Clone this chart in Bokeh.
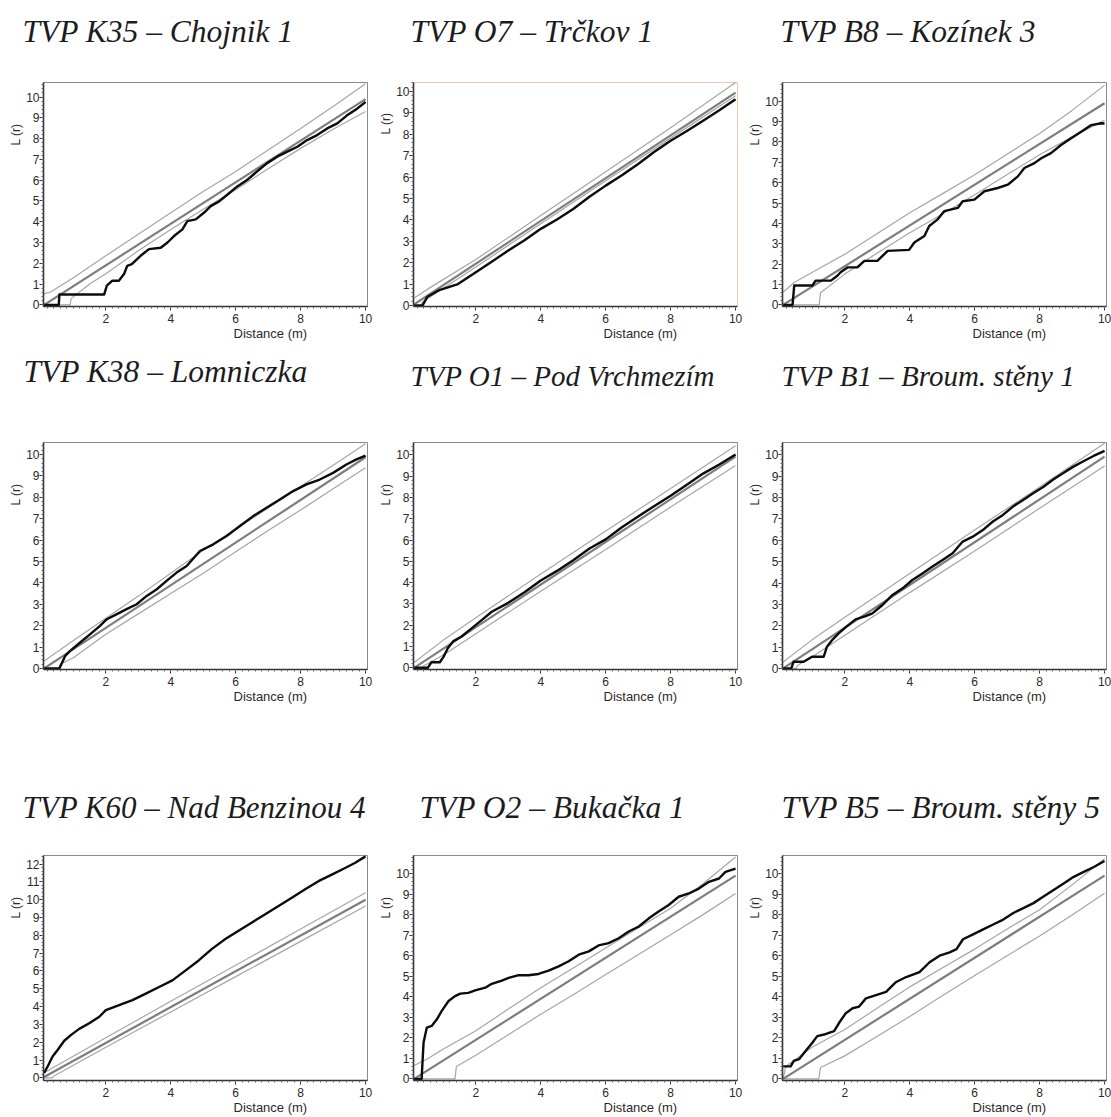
import math
from bokeh.plotting import figure
from bokeh.models import Range1d, FixedTicker, Title
from bokeh.layouts import column, row
from bokeh.embed import file_html
from bokeh.resources import INLINE

# ---------------- data ----------------
TITLES = ["TVP K35 \u2013 Chojnik 1", "TVP O7 \u2013 Tr\u010dkov 1", "TVP B8 \u2013 Koz\u00ednek 3",
          "TVP K38 \u2013 Lomniczka", "TVP O1 \u2013 Pod Vrchmez\u00edm", "TVP B1 \u2013 Broum. st\u011bny 1",
          "TVP K60 \u2013  Nad Benzinou 4", "TVP O2 \u2013 Buka\u010dka 1", "TVP B5 \u2013 Broum. st\u011bny 5"]
X_LABEL = "Distance (m)"
Y_LABEL = "L (r)"
X_TICKS = [2, 4, 6, 8, 10]
EXP_X = [0.1, 10.0]

# K35 - Chojnik 1
k35_obs_x = [0.1, 0.55, 0.57, 1.95, 2.03, 2.2, 2.4, 2.56, 2.66, 2.8, 3.07, 3.33, 3.69, 3.9, 4.1, 4.36, 4.51, 4.77, 5.02, 5.23, 5.49, 5.74, 6.05, 6.36, 6.66, 6.97, 7.28, 7.59, 7.9, 8.2, 8.51, 8.82, 9.13, 9.43, 9.74, 10.0]
k35_obs_y = [0.0, 0.0, 0.5, 0.5, 0.92, 1.16, 1.16, 1.48, 1.88, 1.96, 2.36, 2.68, 2.75, 3.0, 3.31, 3.63, 4.03, 4.11, 4.43, 4.75, 4.98, 5.3, 5.7, 6.02, 6.42, 6.82, 7.13, 7.37, 7.61, 7.93, 8.17, 8.49, 8.73, 9.12, 9.44, 9.76]
k35_up_x = [0.1, 0.3, 1.0, 2.0, 3.0, 4.0, 5.0, 6.0, 7.0, 8.0, 9.0, 10.0]
k35_up_y = [0.53, 0.62, 1.3, 2.36, 3.4, 4.43, 5.45, 6.42, 7.45, 8.49, 9.55, 10.64]
k35_lo_x = [0.1, 0.9, 0.93, 1.5, 2.0, 3.0, 4.0, 5.0, 6.0, 7.0, 8.0, 9.0, 10.0]
k35_lo_y = [0.0, 0.0, 0.3, 1.0, 1.5, 2.6, 3.63, 4.6, 5.54, 6.55, 7.53, 8.45, 9.3]
k35_exp_y = [0.0, 9.9]

# O7 - Trckov 1
o7_obs_x = [0.1, 0.36, 0.5, 0.85, 1.45, 2.0, 2.5, 3.0, 3.5, 4.0, 4.5, 5.0, 5.5, 6.0, 6.5, 7.0, 7.5, 8.0, 8.5, 9.0, 9.5, 10.0]
o7_obs_y = [0.0, 0.0, 0.39, 0.7, 1.0, 1.55, 2.05, 2.57, 3.05, 3.58, 4.02, 4.51, 5.08, 5.6, 6.08, 6.61, 7.18, 7.7, 8.15, 8.63, 9.12, 9.64]
o7_up_x = [0.1, 0.5, 2.0, 4.0, 6.0, 8.0, 10.0]
o7_up_y = [0.35, 0.75, 2.15, 4.2, 6.25, 8.3, 10.42]
o7_lo_x = [0.1, 0.3, 0.35, 1.0, 2.0, 4.0, 6.0, 8.0, 10.0]
o7_lo_y = [0.0, 0.0, 0.15, 0.8, 1.8, 3.82, 5.83, 7.82, 9.8]
o7_exp_y = [0.05, 9.95]

# B8 - Kozinek 3
b8_obs_x = [0.1, 0.39, 0.44, 1.0, 1.1, 1.57, 1.77, 1.87, 2.08, 2.39, 2.6, 3.0, 3.32, 3.98, 4.14, 4.45, 4.6, 4.86, 5.06, 5.48, 5.63, 5.99, 6.3, 6.71, 7.02, 7.33, 7.53, 7.84, 8.05, 8.35, 8.66, 8.97, 9.28, 9.59, 9.9, 10.0]
b8_obs_y = [0.0, 0.0, 0.95, 0.95, 1.19, 1.19, 1.43, 1.6, 1.84, 1.84, 2.16, 2.16, 2.65, 2.7, 3.06, 3.38, 3.87, 4.2, 4.6, 4.76, 5.09, 5.17, 5.58, 5.74, 5.9, 6.31, 6.72, 6.96, 7.2, 7.45, 7.85, 8.18, 8.5, 8.83, 8.92, 8.91]
b8_up_x = [0.1, 0.44, 1.0, 2.0, 3.0, 4.0, 5.0, 6.0, 7.0, 8.0, 9.0, 10.0]
b8_up_y = [0.62, 1.1, 1.6, 2.49, 3.5, 4.52, 5.45, 6.39, 7.4, 8.42, 9.55, 10.78]
b8_lo_x = [0.1, 1.21, 1.25, 2.0, 3.0, 4.0, 5.0, 6.0, 7.0, 8.0, 9.0, 10.0]
b8_lo_y = [0.0, 0.0, 0.6, 1.51, 2.55, 3.54, 4.45, 5.41, 6.4, 7.37, 8.25, 9.07]
b8_exp_y = [0.0, 9.9]

# K38 - Lomniczka
k38_obs_x = [0.1, 0.57, 0.75, 0.9, 1.21, 1.52, 1.82, 2.03, 2.34, 2.64, 2.95, 3.26, 3.57, 3.87, 4.18, 4.49, 4.9, 5.31, 5.72, 6.13, 6.54, 6.95, 7.36, 7.77, 8.18, 8.59, 9.0, 9.41, 9.72, 10.0]
k38_obs_y = [0.0, 0.0, 0.59, 0.82, 1.21, 1.6, 1.99, 2.3, 2.54, 2.77, 3.0, 3.39, 3.7, 4.09, 4.48, 4.79, 5.49, 5.8, 6.19, 6.66, 7.12, 7.51, 7.9, 8.29, 8.6, 8.83, 9.14, 9.53, 9.77, 9.95]
k38_up_x = [0.1, 1.0, 2.0, 3.0, 4.0, 5.0, 6.0, 7.0, 8.0, 9.0, 10.0]
k38_up_y = [0.35, 1.3, 2.35, 3.38, 4.45, 5.52, 6.5, 7.5, 8.5, 9.5, 10.5]
k38_lo_x = [0.1, 0.55, 0.6, 1.0, 2.0, 3.0, 4.0, 5.0, 6.0, 7.0, 8.0, 9.0, 10.0]
k38_lo_y = [0.0, 0.0, 0.2, 0.5, 1.6, 2.55, 3.5, 4.45, 5.45, 6.45, 7.4, 8.4, 9.38]
k38_exp_y = [0.0, 9.87]

# O1 - Pod Vrchmezim
o1_obs_x = [0.1, 0.52, 0.63, 0.89, 1.0, 1.14, 1.3, 1.56, 1.87, 2.18, 2.49, 3.0, 3.5, 4.0, 4.5, 5.0, 5.5, 6.0, 6.5, 7.0, 7.5, 8.0, 8.5, 9.0, 9.5, 10.0]
o1_obs_y = [0.0, 0.0, 0.26, 0.26, 0.5, 0.93, 1.24, 1.47, 1.85, 2.24, 2.63, 3.05, 3.55, 4.1, 4.55, 5.05, 5.6, 6.03, 6.6, 7.11, 7.6, 8.08, 8.6, 9.12, 9.55, 10.02]
o1_up_x = [0.1, 1.0, 2.0, 4.0, 6.0, 8.0, 10.0]
o1_up_y = [0.25, 1.3, 2.35, 4.4, 6.42, 8.42, 10.43]
o1_lo_x = [0.1, 0.35, 0.4, 1.0, 2.0, 4.0, 6.0, 8.0, 10.0]
o1_lo_y = [0.0, 0.0, 0.1, 0.6, 1.6, 3.6, 5.55, 7.55, 9.5]
o1_exp_y = [0.0, 9.92]

# B1 - Broum. steny 1
b1_obs_x = [0.1, 0.35, 0.42, 0.73, 0.99, 1.35, 1.45, 1.61, 1.81, 2.02, 2.33, 2.64, 2.85, 3.16, 3.47, 3.78, 4.08, 4.39, 4.7, 5.01, 5.32, 5.63, 5.94, 6.25, 6.56, 6.87, 7.18, 7.49, 7.8, 8.11, 8.42, 8.73, 9.04, 9.35, 9.66, 10.0]
b1_obs_y = [0.0, 0.0, 0.31, 0.31, 0.55, 0.55, 1.02, 1.33, 1.64, 1.92, 2.3, 2.45, 2.58, 2.97, 3.44, 3.75, 4.14, 4.45, 4.77, 5.08, 5.39, 5.94, 6.17, 6.48, 6.88, 7.19, 7.58, 7.89, 8.2, 8.5, 8.85, 9.15, 9.45, 9.7, 9.95, 10.19]
b1_up_x = [0.1, 1.0, 2.0, 4.0, 6.0, 8.0, 10.0]
b1_up_y = [0.3, 1.35, 2.4, 4.45, 6.48, 8.5, 10.55]
b1_lo_x = [0.1, 0.5, 0.55, 1.0, 2.0, 4.0, 6.0, 8.0, 10.0]
b1_lo_y = [0.0, 0.0, 0.15, 0.55, 1.55, 3.55, 5.5, 7.5, 9.48]
b1_exp_y = [0.0, 9.92]

# K60 - Nad Benzinou 4
k60_obs_x = [0.1, 0.21, 0.36, 0.52, 0.72, 0.93, 1.18, 1.49, 1.8, 2.0, 2.41, 2.82, 3.23, 3.64, 4.05, 4.46, 4.86, 5.27, 5.68, 6.09, 6.5, 6.91, 7.32, 7.73, 8.14, 8.55, 8.96, 9.37, 9.67, 10.0]
k60_obs_y = [0.28, 0.65, 1.2, 1.58, 2.08, 2.41, 2.75, 3.06, 3.43, 3.8, 4.08, 4.36, 4.73, 5.1, 5.47, 6.03, 6.59, 7.24, 7.79, 8.26, 8.72, 9.18, 9.65, 10.11, 10.58, 11.04, 11.41, 11.78, 12.06, 12.43]
k60_up_x = [0.1, 2.0, 4.0, 6.0, 8.0, 10.0]
k60_up_y = [0.28, 2.25, 4.3, 6.32, 8.35, 10.39]
k60_lo_x = [0.1, 0.35, 0.4, 2.0, 4.0, 6.0, 8.0, 10.0]
k60_lo_y = [0.0, 0.0, 0.1, 1.72, 3.7, 5.68, 7.66, 9.65]
k60_exp_y = [0.05, 10.0]

# O2 - Bukacka 1
o2_obs_x = [0.1, 0.33, 0.39, 0.49, 0.64, 0.8, 0.95, 1.16, 1.36, 1.52, 1.77, 1.98, 2.29, 2.49, 2.8, 3.01, 3.32, 3.62, 3.93, 4.24, 4.55, 4.86, 5.17, 5.48, 5.78, 6.09, 6.4, 6.71, 7.02, 7.33, 7.63, 7.94, 8.25, 8.56, 8.87, 9.18, 9.49, 9.69, 10.0]
o2_obs_y = [0.0, 0.0, 1.77, 2.5, 2.58, 2.9, 3.31, 3.79, 4.03, 4.15, 4.19, 4.31, 4.44, 4.63, 4.79, 4.92, 5.05, 5.05, 5.11, 5.27, 5.48, 5.73, 6.05, 6.21, 6.5, 6.61, 6.85, 7.18, 7.42, 7.82, 8.15, 8.47, 8.87, 9.03, 9.27, 9.6, 9.76, 10.08, 10.24]
o2_up_x = [0.1, 0.5, 1.0, 2.0, 3.0, 4.0, 5.0, 6.0, 7.0, 8.0, 9.0, 10.0]
o2_up_y = [0.65, 0.97, 1.45, 2.34, 3.4, 4.44, 5.4, 6.37, 7.35, 8.31, 9.5, 10.81]
o2_lo_x = [0.1, 1.36, 1.4, 2.0, 3.0, 4.0, 5.0, 6.0, 7.0, 8.0, 9.0, 10.0]
o2_lo_y = [0.0, 0.0, 0.6, 1.15, 2.15, 3.15, 4.1, 5.08, 6.05, 7.02, 8.0, 9.03]
o2_exp_y = [0.0, 9.9]

# B5 - Broum. steny 5
b5_obs_x = [0.1, 0.33, 0.43, 0.59, 0.79, 1.0, 1.15, 1.36, 1.51, 1.67, 1.82, 2.03, 2.24, 2.44, 2.65, 2.96, 3.27, 3.58, 3.89, 4.3, 4.61, 4.92, 5.23, 5.44, 5.64, 5.95, 6.26, 6.57, 6.88, 7.19, 7.5, 7.81, 8.12, 8.43, 8.74, 9.05, 9.36, 9.67, 10.0]
b5_obs_y = [0.61, 0.61, 0.88, 0.96, 1.36, 1.76, 2.08, 2.16, 2.24, 2.32, 2.72, 3.2, 3.44, 3.52, 3.92, 4.08, 4.24, 4.72, 4.96, 5.2, 5.68, 6.0, 6.16, 6.32, 6.8, 7.04, 7.28, 7.52, 7.76, 8.08, 8.32, 8.56, 8.88, 9.2, 9.52, 9.84, 10.08, 10.32, 10.61]
b5_up_x = [0.1, 0.18, 1.0, 2.0, 3.0, 4.0, 5.0, 6.0, 7.0, 8.0, 9.0, 10.0]
b5_up_y = [0.0, 0.6, 1.55, 2.4, 3.45, 4.48, 5.4, 6.32, 7.3, 8.24, 9.45, 10.72]
b5_lo_x = [0.1, 1.2, 1.25, 2.0, 3.0, 4.0, 5.0, 6.0, 7.0, 8.0, 9.0, 10.0]
b5_lo_y = [0.0, 0.0, 0.55, 1.12, 2.08, 3.04, 4.05, 5.04, 6.0, 6.96, 7.98, 9.04]
b5_exp_y = [0.0, 9.9]

Y_RANGES = [(-0.08, 10.7), (-0.05, 10.42), (-0.08, 10.92),
            (-0.05, 10.56), (-0.08, 10.58), (-0.05, 10.58),
            (-0.15, 12.48), (-0.08, 10.88), (-0.08, 10.88)]
Y_TOPS = [10, 10, 10, 10, 10, 10, 12, 10, 10]

SERIES = [
    (k35_obs_x, k35_obs_y, k35_up_x, k35_up_y, k35_lo_x, k35_lo_y, k35_exp_y),
    (o7_obs_x, o7_obs_y, o7_up_x, o7_up_y, o7_lo_x, o7_lo_y, o7_exp_y),
    (b8_obs_x, b8_obs_y, b8_up_x, b8_up_y, b8_lo_x, b8_lo_y, b8_exp_y),
    (k38_obs_x, k38_obs_y, k38_up_x, k38_up_y, k38_lo_x, k38_lo_y, k38_exp_y),
    (o1_obs_x, o1_obs_y, o1_up_x, o1_up_y, o1_lo_x, o1_lo_y, o1_exp_y),
    (b1_obs_x, b1_obs_y, b1_up_x, b1_up_y, b1_lo_x, b1_lo_y, b1_exp_y),
    (k60_obs_x, k60_obs_y, k60_up_x, k60_up_y, k60_lo_x, k60_lo_y, k60_exp_y),
    (o2_obs_x, o2_obs_y, o2_up_x, o2_up_y, o2_lo_x, o2_lo_y, o2_exp_y),
    (b5_obs_x, b5_obs_y, b5_up_x, b5_up_y, b5_lo_x, b5_lo_y, b5_exp_y),
]

# ---------------- layout / style ----------------
FRAME_W = 324
COL_BORDERS = [(43, 10), (35, 9), (35, 7)]               # left, right
ROW_GEOM = [(82, 224, 39), (97, 227, 101), (85, 225, 36)]  # top, frame h, bottom
TITLE_DX = [-21, -3, -2, -20, -3, -1, -21, 6, -1]
TITLE_SIZE = ["31.5px", "31.5px", "31.5px", "31.5px", "29px", "29px", "31px", "31.5px", "31.5px"]
TITLE_GAP = [31, 31, 31, 51, 48, 48, 28, 28, 28]   # spacer between frame and title
LR_OFFSET = [41, 30, 41, 41, 41, 41, 41, 41, 41]

OBS_COLOR = "#0c0c0c"
EXP_COLOR = "#7d7d7d"
ENV_COLOR = "#a6a6a6"
TEXT_COLOR = "#2a2a2a"

x_minor = [round(0.2 * i, 1) for i in range(0, 51)]


def make_panel(i):
    r, c = divmod(i, 3)
    bl, br = COL_BORDERS[c]
    bt, fh, bb = ROW_GEOM[r]
    ox, oy, ux, uy, lx, ly, ey = SERIES[i]
    y0, y1 = Y_RANGES[i]
    ytop = Y_TOPS[i]
    p = figure(frame_width=FRAME_W, frame_height=fh,
               min_border_left=bl, min_border_right=br,
               min_border_top=bt, min_border_bottom=bb,
               x_range=Range1d(0.08, 10.06), y_range=Range1d(y0, y1),
               output_backend="svg", toolbar_location=None)
    p.xgrid.visible = False
    p.ygrid.visible = False
    p.outline_line_color = "#8a8a8a" if i != 1 else "#efc6b0"
    p.outline_line_width = 1
    p.background_fill_color = "white"
    p.border_fill_color = "white"

    p.xaxis.ticker = FixedTicker(ticks=X_TICKS, minor_ticks=x_minor)
    y_minor = [round(0.2 * k, 1) for k in range(0, ytop * 5 + 5)]
    p.yaxis.ticker = FixedTicker(ticks=list(range(0, ytop + 1)), minor_ticks=y_minor)
    for ax in (p.xaxis[0], p.yaxis[0]):
        ax.axis_line_color = "#333333"
        ax.axis_line_width = 1.6
        ax.major_tick_line_color = "#333333"
        ax.major_tick_out = 4
        ax.major_tick_in = 0
        ax.minor_tick_line_color = "#666666"
        ax.minor_tick_out = 2
        ax.minor_tick_in = 0
        ax.major_label_text_font = "Liberation Sans"
        ax.major_label_text_font_size = "12px"
        ax.major_label_text_color = TEXT_COLOR
    p.xaxis.major_label_standoff = 3
    p.yaxis.major_label_standoff = 0

    p.line(lx, ly, line_color=ENV_COLOR, line_width=1.2)
    p.line(ux, uy, line_color=ENV_COLOR, line_width=1.2)
    p.line(EXP_X, ey, line_color=EXP_COLOR, line_width=2.2)
    p.line(ox, oy, line_color=OBS_COLOR, line_width=2.4, line_join="round")

    # spacer between frame and the panel title, then the title itself
    p.add_layout(Title(text=" ", text_font_size="1px", standoff=TITLE_GAP[i]), "above")
    p.add_layout(Title(text=TITLES[i], align="left", offset=TITLE_DX[i], standoff=0,
                       vertical_align="bottom", text_font="Liberation Serif",
                       text_font_style="italic", text_font_size=TITLE_SIZE[i],
                       text_color="#1c1c1c"), "above")

    p.add_layout(Title(text=X_LABEL, align="left", offset=190, standoff=0,
                       vertical_align="top", text_font="Liberation Sans",
                       text_font_size="13px", text_font_style="normal",
                       text_color=TEXT_COLOR), "below")
    p.add_layout(Title(text=Y_LABEL, align="right", offset=LR_OFFSET[i], standoff=0,
                       vertical_align="middle", text_font="Liberation Sans",
                       text_font_size="12px", text_font_style="normal",
                       text_color=TEXT_COLOR), "left")
    return p


panels = [make_panel(i) for i in range(9)]
layout = column(row(panels[0], panels[1], panels[2], spacing=0),
                row(panels[3], panels[4], panels[5], spacing=0),
                row(panels[6], panels[7], panels[8], spacing=0), spacing=0)

open("out.html", "w").write(file_html(layout, INLINE))
